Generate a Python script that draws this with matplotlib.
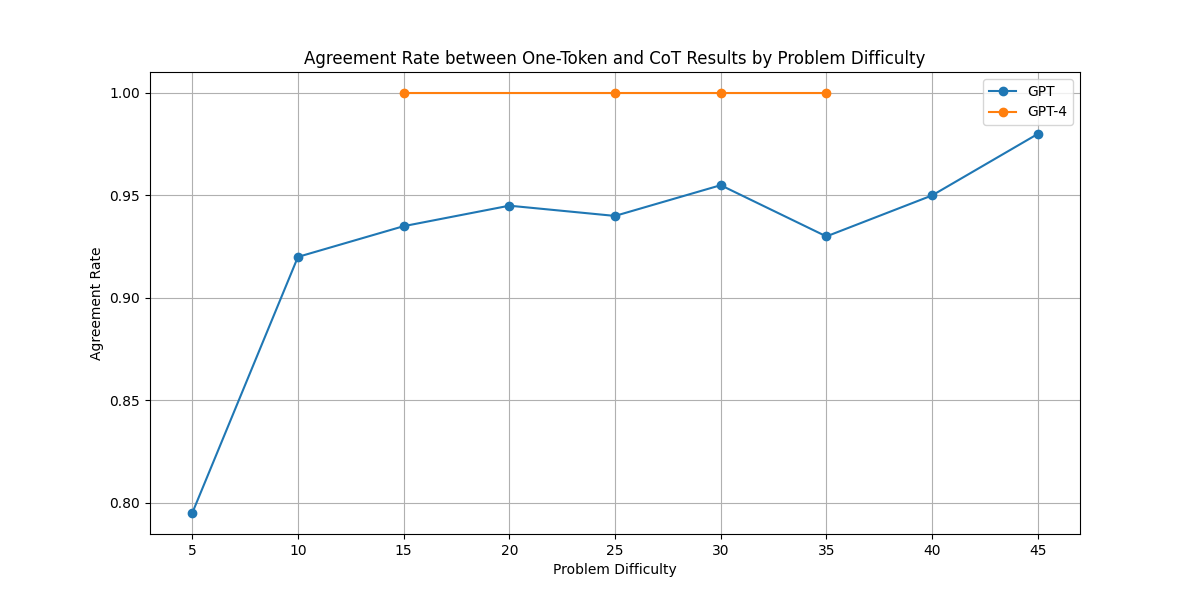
import matplotlib
matplotlib.use('Agg')
import matplotlib.pyplot as plt

# Datos
dificultad_gpt = [5, 10, 15, 20, 25, 30, 35, 40, 45]
acuerdo_gpt = [0.795, 0.92, 0.935, 0.945, 0.94, 0.955, 0.93, 0.95, 0.98]

dificultad_gpt4 = [15, 25, 30, 35]
acuerdo_gpt4 = [1.0, 1.0, 1.0, 1.0]


def graficar():
    plt.figure(figsize=(12, 6))

    plt.plot(dificultad_gpt, acuerdo_gpt, marker='o', label='GPT')
    plt.plot(dificultad_gpt4, acuerdo_gpt4, marker='o', label='GPT-4')

    plt.xlabel('Problem Difficulty')
    plt.ylabel('Agreement Rate')
    plt.title('Agreement Rate between One-Token and CoT Results by Problem Difficulty')
    plt.legend()
    plt.grid(True)

    plt.savefig('out.png', dpi=100)


if __name__ == '__main__':
    graficar()
